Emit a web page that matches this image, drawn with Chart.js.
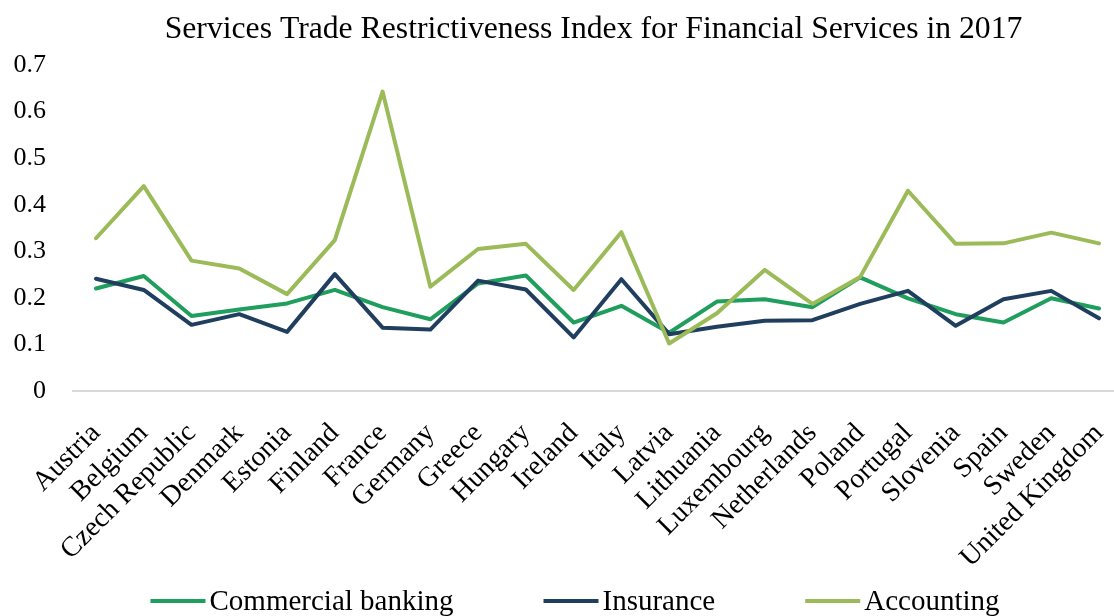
<!DOCTYPE html>
<html>
<head>
<meta charset="utf-8">
<script src="https://cdn.jsdelivr.net/npm/chart.js@4"></script>
<style>
    html, body { margin: 0; padding: 0; background: #ffffff; }
    #chart { display: block; }
</style>
</head>
<body>
<canvas id="chart" width="1114" height="616"></canvas>
<script>
// ============================================
// DATA
// ============================================

const countries = [
    "Austria", "Belgium", "Czech Republic", "Denmark", "Estonia", "Finland",
    "France", "Germany", "Greece", "Hungary", "Ireland", "Italy", "Latvia",
    "Lithuania", "Luxembourg", "Netherlands", "Poland", "Portugal",
    "Slovenia", "Spain", "Sweden", "United Kingdom",
];

const commercialBanking = [
    0.220, 0.247, 0.161, 0.175, 0.188, 0.217, 0.180, 0.154, 0.231, 0.248,
    0.147, 0.183, 0.125, 0.192, 0.197, 0.180, 0.244, 0.199, 0.165, 0.147,
    0.199, 0.177,
];

const insurance = [
    0.241, 0.217, 0.142, 0.165, 0.127, 0.251, 0.136, 0.132, 0.237, 0.218,
    0.115, 0.240, 0.122, 0.138, 0.151, 0.152, 0.187, 0.215, 0.140, 0.197,
    0.215, 0.156,
];

const accounting = [
    0.328, 0.440, 0.280, 0.263, 0.208, 0.324, 0.643, 0.224, 0.305, 0.316,
    0.217, 0.341, 0.102, 0.167, 0.260, 0.187, 0.245, 0.430, 0.316, 0.317,
    0.340, 0.317,
];

const seriesNames = ["Commercial banking", "Insurance", "Accounting"];
const seriesColors = ["#1F9E5D", "#203F5E", "#9BBB59"];
const chartTitle = "Services Trade Restrictiveness Index for Financial Services in 2017";

// ============================================
// PLUGINS
// ============================================

const serif = '"Liberation Serif", "Times New Roman", serif';

// title centred over the plot area, like the spreadsheet original
const plotTitle = {
    id: "plotTitle",
    afterDraw(chart) {
        const { ctx, chartArea } = chart;
        ctx.save();
        ctx.font = `31.7px ${serif}`;
        ctx.fillStyle = "#000000";
        ctx.textAlign = "center";
        ctx.textBaseline = "middle";
        ctx.fillText(chartTitle, (chartArea.left + chartArea.right) / 2 - 4, 30);
        ctx.restore();
    },
};

// light grey category axis line at zero, running half a step past the ends
const zeroLine = {
    id: "zeroLine",
    beforeDatasetsDraw(chart) {
        const { ctx, chartArea, scales } = chart;
        const y0 = scales.y.getPixelForValue(0);
        const step = scales.x.getPixelForValue(1) - scales.x.getPixelForValue(0);
        ctx.save();
        ctx.strokeStyle = "#D9D9D9";
        ctx.lineWidth = 2;
        ctx.beginPath();
        ctx.moveTo(chartArea.left - step / 2, y0);
        ctx.lineTo(chartArea.right + step / 2, y0);
        ctx.stroke();
        ctx.restore();
    },
};

// bottom legend: short line swatch, small gap, label, wide gap between items
const lineLegend = {
    id: "lineLegend",
    afterDraw(chart) {
        const { ctx } = chart;
        const swatch = 55;
        const gap = 4;
        const itemGap = 90;
        const centerX = 575;
        const y = 601;
        ctx.save();
        ctx.font = `29px ${serif}`;
        ctx.textBaseline = "middle";
        ctx.textAlign = "left";
        const items = chart.data.datasets.map((ds) => ({
            label: ds.label,
            color: ds.borderColor,
            width: swatch + gap + ctx.measureText(ds.label).width,
        }));
        const total = items.reduce((s, it) => s + it.width, 0) + itemGap * (items.length - 1);
        let x = centerX - total / 2;
        items.forEach((it) => {
            ctx.fillStyle = it.color;
            ctx.fillRect(x, y - 2, swatch, 4);
            ctx.fillStyle = "#000000";
            ctx.fillText(it.label, x + swatch + gap, y + 1);
            x += it.width + itemGap;
        });
        ctx.restore();
    },
};

// ============================================
// CHART
// ============================================

Chart.defaults.font.family = serif;
Chart.defaults.color = "#000000";

const seriesValues = [commercialBanking, insurance, accounting];

new Chart(document.getElementById("chart"), {
    type: "line",
    data: {
        labels: countries,
        datasets: seriesNames.map((name, i) => ({
            label: name,
            data: seriesValues[i],
            borderColor: seriesColors[i],
            backgroundColor: seriesColors[i],
            borderWidth: 4,
            pointRadius: 0,
            tension: 0,
            borderJoinStyle: "round",
            borderCapStyle: "round",
            order: 2 - i,
        })),
    },
    options: {
        responsive: false,
        devicePixelRatio: 1,
        animation: false,
        layout: { padding: { top: 65, left: 0, right: 15, bottom: 0 } },
        plugins: {
            title: { display: false },
            tooltip: { enabled: false },
            legend: { display: false },
        },
        scales: {
            x: {
                offset: false,
                grid: { display: false },
                border: { display: false },
                ticks: {
                    font: { size: 28 },
                    color: "#000000",
                    autoSkip: false,
                    minRotation: 45,
                    maxRotation: 45,
                    padding: 18,
                },
                afterFit: (scale) => {
                    scale.height = 225;
                    scale.paddingLeft = 0;
                    scale.paddingRight = 0;
                },
            },
            y: {
                min: 0,
                max: 0.7,
                grid: { display: false },
                border: { display: false },
                ticks: {
                    stepSize: 0.1,
                    font: { size: 26 },
                    color: "#000000",
                    padding: 42,
                    callback: (v) => (v === 0 ? "0" : v.toFixed(1)),
                },
                afterFit: (scale) => {
                    scale.width = 96;
                },
            },
        },
    },
    plugins: [plotTitle, zeroLine, lineLegend],
});
</script>
</body>
</html>
